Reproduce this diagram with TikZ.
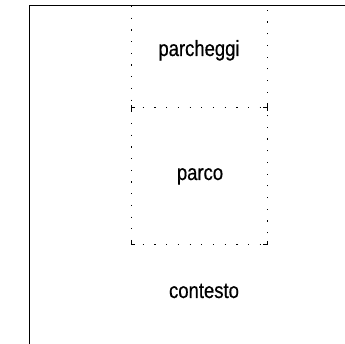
\documentclass[tikz,border=0pt]{standalone}
\usepackage{fontspec}
\setmainfont{Liberation Sans}
\newfontfamily\etroit[FakeStretch=0.84,FakeBold=0.5]{Liberation Sans}
\tikzset{
  zone/.style={font=\etroit\fontsize{22}{26}\selectfont, anchor=base},
  pointille/.style={line width=1pt, dash pattern=on 1.2pt off 10.5pt},
  coin/.style={line width=1pt}
}
\begin{document}
\begin{tikzpicture}[x=1pt,y=1pt]
            \useasboundingbox (0,0) rectangle (345,344);
            \clip (0,0) rectangle (345,344);
            \draw[line width=1pt] (29,-5)--(29,338)--(350,338);
            % parco / parcheggi
            \draw[pointille] (131,338)--(131,99);
            \draw[pointille] (131,99)--(267,99);
            \draw[pointille] (267,99)--(267,338);
            \draw[pointille] (131,236)--(267,236);
            \draw[coin] (131,103)--(131,99)--(135,99);
            \draw[coin] (263,99)--(267,99)--(267,103);
            \draw[coin] (131,233)--(131,239) (131,236)--(135,236);
            \draw[coin] (267,233)--(267,239) (267,236)--(263,236);
            \node[zone] (parcheggi) at (199,288){parcheggi};
            \node[zone] (parco) at (200,164){parco};
            \node[zone] (contesto) at (204,46){contesto};
        \end{tikzpicture}
\end{document}
